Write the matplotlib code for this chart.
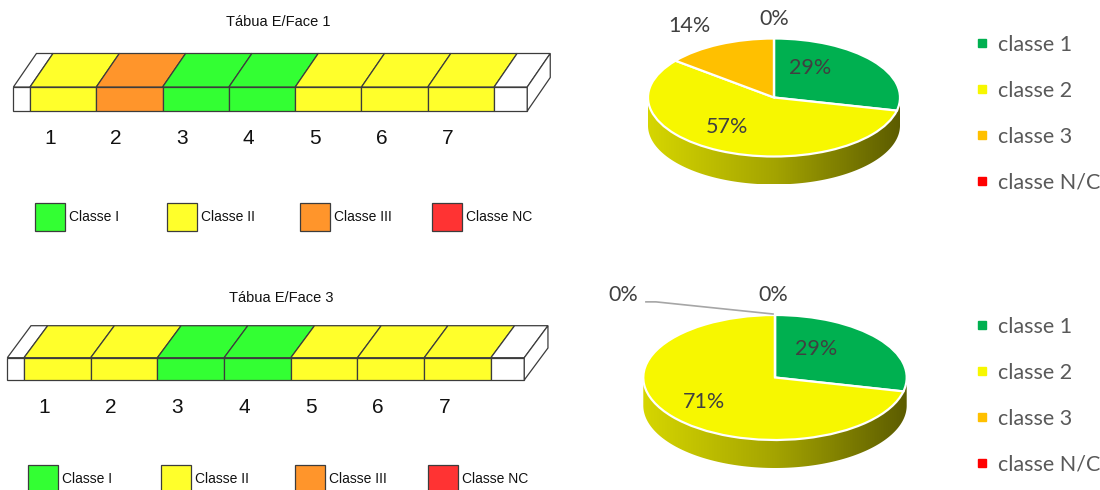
import numpy as np
import matplotlib
matplotlib.use("Agg")
import matplotlib.pyplot as plt
from matplotlib import font_manager
from matplotlib.patches import Polygon, Rectangle
from matplotlib.colors import LinearSegmentedColormap
from matplotlib.lines import Line2D

W, H = 1100, 490

# class of each board segment, left to right (1 = I, 2 = II, 3 = III, 4 = NC)
face1_classes = [2, 3, 1, 1, 2, 2, 2]
face3_classes = [2, 2, 1, 1, 2, 2, 2]
segment_labels = ["1", "2", "3", "4", "5", "6", "7"]
board_titles = ["Tábua E/Face 1", "Tábua E/Face 3"]

board_legend = ["Classe I", "Classe II", "Classe III", "Classe NC"]
pie_legend = ["classe 1", "classe 2", "classe 3", "classe N/C"]

board_colors = ["#33ff33", "#ffff2b", "#ff952b", "#ff3333"]
pie_colors = ["#00b050", "#f7f700", "#ffc000", "#ff0000"]
side_cmap = LinearSegmentedColormap.from_list("side", ["#d6d600", "#a4a400", "#5c5c00"])

names = {f.name for f in font_manager.fontManager.ttflist}
narrow = "Liberation Sans Narrow" if "Liberation Sans Narrow" in names else "Liberation Sans"
pie_font = "Lato"

fig = plt.figure(figsize=(W / 100, H / 100), dpi=100)


def px_axes(box):
    x0, y0, x1, y1 = box
    ax = fig.add_axes([x0 / W, 1 - y1 / H, (x1 - x0) / W, (y1 - y0) / H])
    ax.axis("off")
    return ax


def draw_board(box, seg_left, front_bottom, seg_px, front_px, depth_px, shift_px,
               classes, title, title_xy, legend_x, legend_y):
    ax = px_axes(box)
    x0, y0, x1, y1 = box
    ax.set_xlim((x0 - seg_left) / seg_px, (x1 - seg_left) / seg_px)
    ax.set_ylim((front_bottom - y1) / seg_px, (front_bottom - y0) / seg_px)
    h = front_px / seg_px
    d = depth_px / seg_px
    s = shift_px / seg_px
    ec, lw = "#3c3c3c", 0.9
    n = len(classes)

    def block(xa, xb, color):
        ax.add_patch(Rectangle((xa, 0), xb - xa, h, facecolor=color, edgecolor=ec, lw=lw))
        ax.add_patch(Polygon([(xa, h), (xb, h), (xb + s, h + d), (xa + s, h + d)],
                             facecolor=color, edgecolor=ec, lw=lw))

    block(-0.25, 0, "white")
    for i, c in enumerate(classes):
        block(i, i + 1, board_colors[c - 1])
    block(n, n + 0.5, "white")
    ax.add_patch(Polygon([(n + 0.5, 0), (n + 0.5, h), (n + 0.5 + s, h + d), (n + 0.5 + s, d)],
                         facecolor="white", edgecolor=ec, lw=lw))

    for i, lab in enumerate(segment_labels):
        ax.text(i + 0.3, -0.41, lab, ha="center", va="center", fontsize=15,
                family=narrow, color="#111111")

    ax.text(title_xy[0], title_xy[1], title, ha="center", va="center",
            fontsize=10.5, family=narrow, color="#111111")

    bw, bh = 30 / seg_px, 28 / seg_px
    for k, (lab, col) in enumerate(zip(board_legend, board_colors)):
        bx = legend_x + 2 * k
        ax.add_patch(Rectangle((bx, legend_y), bw, bh, facecolor=col, edgecolor=ec, lw=lw,
                               clip_on=False))
        ax.text(bx + bw + 0.06, legend_y + bh / 2, lab, ha="left", va="center",
                fontsize=10, family=narrow, color="#111111")


def draw_pie(box, cx, cy, rx, ry, depth_px, classes, label_pos, legend_xy, leader=None):
    ax = px_axes(box)
    x0, y0, x1, y1 = box
    counts = np.bincount(np.array(classes) - 1, minlength=4)
    shares = counts / counts.sum()

    ax.pie(shares, colors=pie_colors, startangle=90, counterclock=False,
           wedgeprops=dict(edgecolor="white", linewidth=1.6))

    # extruded front rim under the pie top
    d = depth_px / ry
    t = np.linspace(np.pi, 2 * np.pi, 240)
    rim = np.vstack([np.column_stack([np.cos(t), np.sin(t)]),
                     np.column_stack([np.cos(t[::-1]), np.sin(t[::-1]) - d])])
    side = Polygon(rim, closed=True, facecolor="none", edgecolor="none")
    ax.add_patch(side)
    grad = ax.imshow(np.linspace(0, 1, 256)[None, :], cmap=side_cmap, aspect="auto",
                     extent=(-1, 1, -1 - d, 0), zorder=0)
    grad.set_clip_path(side)

    ax.set_aspect("auto")
    ax.set_xlim((x0 - cx) / rx, (x1 - cx) / rx)
    ax.set_ylim((cy - y1) / ry, (cy - y0) / ry)

    for share, (lx, ly) in zip(shares, label_pos):
        ax.text(lx, ly, f"{round(share * 100):.0f}%", ha="center", va="center",
                fontsize=15.5, family=pie_font, color="#404040")
    if leader is not None:
        ax.plot(*zip(*leader), color="#a6a6a6", lw=1.2)

    handles = [Line2D([], [], marker="s", ls="", color=c, markersize=6) for c in pie_colors]
    ax.legend(handles, pie_legend, loc="upper left",
              bbox_to_anchor=(legend_xy[0] / W, 1 - legend_xy[1] / H),
              bbox_transform=fig.transFigure, frameon=False, borderpad=0,
              borderaxespad=0, handlelength=0.6, handletextpad=0.4, labelspacing=1.2,
              prop=dict(family=pie_font, size=15.5), labelcolor="#595959")


draw_board((0, 0, 560, 245), 30, 111, 66.3, 24, 33.5, 23, face1_classes,
           board_titles[0], (3.75, 1.34), 0.07, -1.81)
draw_board((0, 280, 560, 490), 24, 380, 66.7, 22.3, 32, 23.7, face3_classes,
           board_titles[1], (3.85, 1.23), 0.06, -1.69)

draw_pie((600, 0, 980, 245), 774, 97.5, 126, 59, 28, face1_classes,
         [(0.29, 0.50), (-0.37, -0.50), (-0.67, 1.21), (0.0, 1.33)], (976, 35))
draw_pie((600, 280, 980, 490), 775, 377.5, 131.7, 62.5, 28, face3_classes,
         [(0.31, 0.46), (-0.54, -0.39), (-1.15, 1.32), (-0.01, 1.32)], (976, 317),
         leader=[(-0.98, 1.21), (-0.904, 1.21), (-0.015, 1.016)])

fig.savefig("out.png", dpi=100, facecolor="white")
